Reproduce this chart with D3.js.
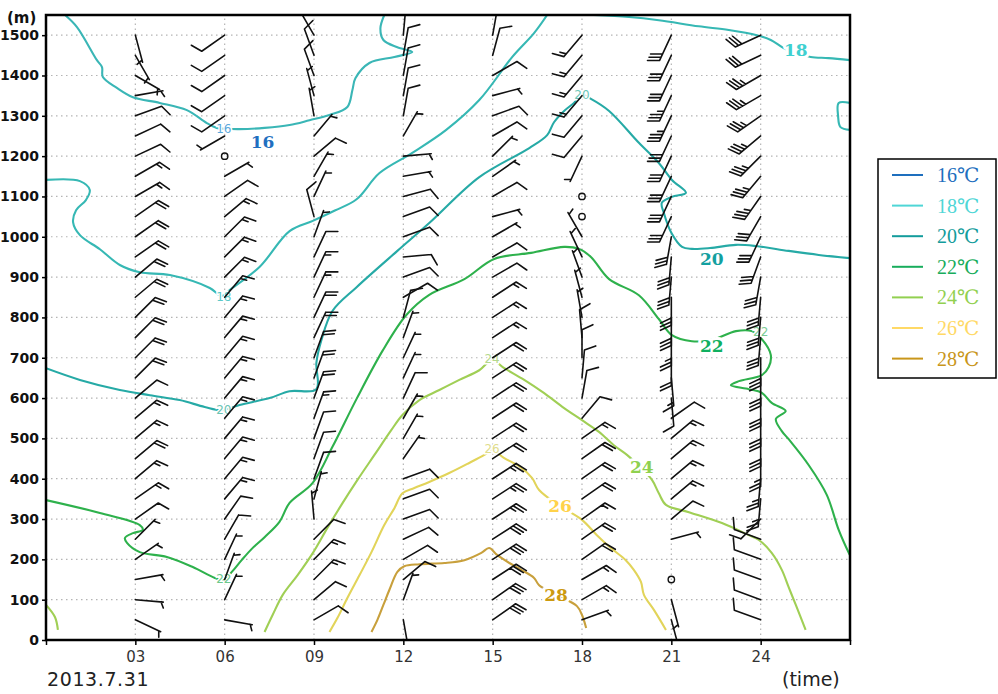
<!DOCTYPE html>
<html><head><meta charset="utf-8">
<script src="https://cdn.jsdelivr.net/npm/d3@7"></script>
<style>body{margin:0;background:#fff;} svg{display:block;}</style>
</head><body><svg id="c" width="998" height="694"></svg>
<script>
// ---------------- DATA ----------------
const xTicks = [0,3,6,9,12,15,18,21,24,27];
const xTickLabels = ["","03","06","09","12","15","18","21","24",""];
const yTicks = d3.range(0,1501,100);
const levels = d3.range(50,1501,50);            // barb heights (m)
const stationHours = [3,6,9,12,15,18,21,24];

// wind direction (deg, from) / speed per station, 50 m .. 1500 m ; speed 0 = calm, null = none
const dir03 = [115,95,80,55,45,55,55,50,50,50,50,50,45,45,45,45,50,50,55,55,55,60,60,65,65,70,80,120,150,165];
const spd03 = [5,5,5,5,5,10,15,15,20,15,15,10,20,20,20,20,20,20,20,20,20,15,15,10,10,10,5,5,5,5];
const dir06 = [100,25,20,25,30,35,40,40,40,40,40,40,40,40,40,40,40,45,45,45,50,55,60,0,240,235,235,235,235,235];
const spd06 = [5,5,5,5,10,10,15,15,15,15,15,15,15,15,15,15,15,15,15,15,15,10,5,0,5,10,10,10,10,10];
const dir09 = [60,50,45,45,45,355,15,20,20,20,20,20,20,20,25,25,25,25,25,20,345,25,30,50,40,350,345,340,340,330];
const spd09 = [10,10,15,15,10,5,5,10,10,10,15,20,20,20,20,20,15,15,10,5,10,5,5,10,5,5,5,10,10,5];
const dir12 = [170,20,50,60,65,70,70,70,35,30,30,25,25,25,20,15,60,70,85,70,70,75,80,85,30,10,10,10,10,5];
const spd12 = [5,5,10,10,10,10,10,10,5,5,5,10,5,5,5,10,10,10,10,10,10,10,5,5,5,10,10,10,10,20];
const dir15 = [55,55,57,57,57,57,57,57,57,57,57,57,57,57,57,57,57,60,60,60,75,60,55,45,60,70,75,60,15,10];
const spd15 = [30,30,30,30,30,25,25,25,20,20,20,20,20,20,15,15,15,10,10,5,5,10,5,5,10,10,5,10,10,10];
const dir18 = [70,60,60,55,55,55,55,55,55,55,40,10,5,0,355,350,345,340,335,330,0,0,null,205,220,220,220,220,220,220];
const spd18 = [5,15,15,20,20,15,20,20,20,15,10,10,10,10,10,5,5,5,5,5,0,0,null,5,10,10,15,15,15,15];
const dir21 = [165,165,0,null,75,50,50,50,50,50,55,175,175,180,180,180,180,185,185,190,205,205,205,205,205,205,205,205,205,205];
const spd21 = [5,5,0,null,5,10,15,15,15,15,10,10,15,20,25,30,30,30,30,30,30,30,30,30,30,35,35,30,30,30];
const dir24 = [290,290,290,290,290,225,185,185,180,180,180,180,180,180,185,185,185,190,200,205,210,215,220,225,230,235,240,240,245,245];
const spd24 = [10,10,10,10,10,10,25,25,25,30,30,30,30,30,30,30,30,30,30,30,30,35,35,35,35,35,35,35,30,30];
const stationDirs = [dir03,dir06,dir09,dir12,dir15,dir18,dir21,dir24];
const stationSpds = [spd03,spd06,spd09,spd12,spd15,spd18,spd21,spd24];

// temperature contours: [hour, height m]
const c16a = [[0.64,1550],[1.04,1520],[1.71,1438],[1.88,1421],[1.91,1396],[2.38,1369],[2.92,1346],[3.82,1332],[4.73,1314],[5.40,1282],[5.73,1270],[6.0,1268],[6.5,1267],[7.34,1270],[8.18,1277],[8.85,1289],[9.52,1302],[10.12,1322],[10.29,1364],[10.39,1393],[10.86,1431],[11.7,1446],[12.3,1458],[11.8,1470],[11.33,1488],[11.23,1517],[11.36,1550]];
const c18a = [[0,1141],[1.14,1138],[1.47,1116],[1.34,1091],[1.01,1066],[0.91,1036],[1.14,1004],[1.81,969],[2.48,930],[3.15,912],[4.16,905],[5.5,873],[5.9,853],[6.17,868],[7.17,925],[8.18,1014],[8.98,1040],[9.7,1065],[10.43,1093],[11.2,1158],[12.3,1208],[13.44,1265],[14.55,1339],[15.66,1446],[16.39,1505],[16.83,1550]];
const c18b = [[18.4,1550],[19.58,1545],[20.58,1537],[21.92,1522],[22.93,1513],[23.87,1500],[24.34,1488],[24.77,1468],[25.2,1455],[25.68,1446],[26.28,1443],[26.99,1438]];
const c18c = [[27,1332],[26.62,1332],[26.6,1300],[26.68,1272],[27,1265]];
const c20 = [[0,674],[1.14,645],[2.48,620],[3.49,607],[4.49,595],[5.33,578],[5.9,570],[6.5,583],[7.51,600],[8.18,617],[9.08,622],[9.08,687],[9.25,744],[9.62,816],[10.43,875],[11.8,965],[12.87,1034],[14.55,1148],[16.23,1220],[16.83,1252],[17.06,1284],[17.4,1312],[17.73,1332],[18.0,1352],[18.3,1342],[18.91,1312],[19.91,1233],[20.58,1183],[21.02,1141],[21.49,1109],[21.02,1099],[20.68,1084],[20.75,1059],[21.0,1010],[21.36,975],[21.69,970],[22.3,972],[23.17,980],[23.84,977],[24.94,965],[25.95,955],[26.99,947]];
const c22 = [[0,347],[1.81,315],[3.15,285],[3.25,273],[2.92,265],[2.65,253],[2.72,241],[3.15,218],[4.06,206],[4.93,181],[5.67,154],[5.97,149],[6.24,169],[6.57,198],[6.91,226],[7.34,255],[7.84,293],[8.18,340],[8.95,389],[9.62,479],[10.43,598],[11.3,717],[12.1,806],[12.87,856],[14.05,895],[15.05,945],[16.29,960],[17.4,975],[17.9,970],[18.3,950],[18.91,895],[19.91,855],[20.58,796],[21.02,756],[21.69,741],[22.4,745],[23.17,766],[23.7,766],[24.04,746],[24.34,707],[24.27,677],[24.04,657],[23.27,642],[23.0,632],[23.6,622],[24.04,613],[24.37,588],[24.84,568],[24.51,548],[24.71,518],[24.94,498],[25.61,434],[26.22,360],[26.62,273],[26.99,211]];
const c24a = [[7.34,20],[7.61,62],[7.95,112],[8.45,161],[8.98,218],[9.45,278],[9.92,335],[10.46,397],[11.03,459],[11.6,521],[11.97,558],[12.54,595],[13.21,620],[13.88,645],[14.55,669],[14.98,694],[15.39,674],[16.06,645],[16.73,612],[17.4,575],[18.0,545],[18.57,516],[19.07,483],[19.51,459],[20.0,425],[20.35,397],[20.58,364],[20.82,335],[21.59,317],[22.7,290],[23.6,260],[23.94,248],[24.37,216],[24.71,174],[24.94,131],[25.18,87],[25.51,25]];
const c24b = [[0,87],[0.3,57],[0.4,25]];
const c26 = [[9.52,20],[9.79,55],[10.12,104],[10.53,161],[10.93,218],[11.36,285],[11.7,327],[11.97,364],[12.37,377],[12.87,392],[13.54,414],[14.21,439],[14.72,459],[14.98,471],[15.39,451],[15.89,431],[16.32,402],[16.56,372],[17.2,335],[18.0,298],[18.5,260],[18.97,228],[19.47,198],[19.74,174],[19.98,144],[20.08,112],[20.42,74],[20.82,25]];
const c28 = [[10.93,20],[11.13,50],[11.33,87],[11.53,124],[11.8,169],[12.03,183],[12.54,188],[13.38,191],[14.05,198],[14.62,216],[14.88,228],[15.15,211],[15.56,191],[15.96,174],[16.39,154],[16.56,136],[17.2,110],[17.83,84],[18.0,62],[18.14,30]];
const contourLines = [c16a,c18a,c18b,c18c,c20,c22,c24a,c24b,c26,c28];
const contourLevelOf = [16,18,18,18,20,22,24,24,26,28];

const tempLevels = [16,18,20,22,24,26,28];
const lineColors = ["#3ab6b6","#36b8b4","#26aaa6","#2eb14c","#a0cf55","#e2d45a","#c8a03c"];
const bigLabelColors = ["#1f6fc0","#3fd0d0","#13a0a0","#10b060","#8fd14f","#ffd24a","#cc9a10"];
const legendColors = ["#1e6fbe","#4fd6d6","#139c9c","#18ad5c","#92d050","#ffd966","#c9961a"];
const legendLabels = ["16℃","18℃","20℃","22℃","24℃","26℃","28℃"];

// inline contour labels [hour, height, text]
const smallLabels = [[5.97,1268,"16"],[5.97,851,"18"],[5.97,570,"20"],[5.97,151,"22"],[18.0,1352,"20"],[14.98,697,"24"],[14.98,474,"26"],[24.0,764,"22"]];
const smallLabelColors = ["#5aa8dc","#5cc8c8","#6cc4b4","#6cc88c","#6cc8b8","#b4d88c","#e0dc8c","#7ccc94"];
// big contour labels [hour, height, text]
const bigLabels = [[7.27,1235,"16"],[25.18,1463,"18"],[22.36,945,"20"],[22.36,729,"22"],[20.01,429,"24"],[17.26,332,"26"],[17.13,112,"28"]];

// ---------------- DRAW ----------------
const svg = d3.select("#c");
const x = d3.scaleLinear().domain([0,27]).range([46,850]);
const y = d3.scaleLinear().domain([0,1550]).range([640,15]);

svg.append("defs").append("clipPath").attr("id","plotclip").append("rect")
  .attr("x",x(0)).attr("y",y(1550)).attr("width",x(27)-x(0)).attr("height",y(0)-y(1550));

// grid
const grid = svg.append("g").attr("stroke","#b4b4b4").attr("stroke-width",1.2).attr("stroke-dasharray","1.5,3.5");
grid.selectAll("line.h").data(yTicks.slice(1)).join("line").attr("class","h")
  .attr("x1",x(0)).attr("x2",x(27)).attr("y1",d=>y(d)).attr("y2",d=>y(d));
grid.selectAll("line.v").data(xTicks.slice(1,-1)).join("line").attr("class","v")
  .attr("x1",d=>x(d)).attr("x2",d=>x(d)).attr("y1",y(0)).attr("y2",y(1550));

// contours
const line = d3.line().x(d=>x(d[0])).y(d=>y(d[1])).curve(d3.curveCatmullRom.alpha(0.5));
svg.append("g").attr("fill","none").attr("stroke-width",2.1).attr("clip-path","url(#plotclip)")
  .selectAll("path").data(contourLines).join("path")
  .attr("d",line)
  .attr("stroke",(d,i)=>lineColors[tempLevels.indexOf(contourLevelOf[i])]);

// small inline labels
svg.append("g").selectAll("text").data(smallLabels).join("text")
  .attr("x",d=>x(d[0])).attr("y",d=>y(d[1])).attr("dy","0.35em")
  .attr("text-anchor","middle").attr("font-family","'DejaVu Sans', sans-serif").attr("font-size",12)
  .attr("fill",(d,i)=>smallLabelColors[i])
  .attr("stroke","#fff").attr("stroke-width",3).attr("paint-order","stroke")
  .text(d=>d[2]);

// wind barbs
const barbG = svg.append("g").attr("clip-path","url(#plotclip)").attr("stroke","#111").attr("stroke-width",1.6).attr("fill","none").attr("stroke-linecap","round");
const L=28, FL=12, HL=6.5, SP=3.6, FA=65*Math.PI/180;
stationHours.forEach((hr,si)=>{
  levels.forEach((lv,li)=>{
    const dir = stationDirs[si][li], spd = stationSpds[si][li];
    if (spd===null || spd===undefined) return;
    const px = x(hr), py = y(lv);
    if (spd===0){ barbG.append("circle").attr("cx",px).attr("cy",py).attr("r",3.2).attr("stroke-width",1.4); return; }
    const r = dir*Math.PI/180, ux=Math.sin(r), uy=-Math.cos(r);
    const fx = ux*Math.cos(FA)-uy*Math.sin(FA), fy = ux*Math.sin(FA)+uy*Math.cos(FA);
    const tx = px+L*ux, ty = py+L*uy;
    let p = `M${px},${py}L${tx},${ty}`;
    const nFull = Math.floor(spd/10), nHalf = Math.round((spd%10)/5);
    let pos = 0;
    for (let k=0;k<nFull;k++){
      const sx=tx-pos*ux, sy=ty-pos*uy;
      p += `M${sx},${sy}L${sx+FL*fx},${sy+FL*fy}`; pos+=SP;
    }
    if (nHalf){
      if (nFull===0) pos = SP*0.6;
      const sx=tx-pos*ux, sy=ty-pos*uy;
      p += `M${sx},${sy}L${sx+HL*fx},${sy+HL*fy}`;
    }
    barbG.append("path").attr("d",p);
  });
});

// big labels
svg.append("g").selectAll("text").data(bigLabels).join("text")
  .attr("x",d=>x(d[0])).attr("y",d=>y(d[1])).attr("dy","0.36em")
  .attr("text-anchor","middle").attr("font-family","'DejaVu Serif', serif").attr("font-weight","bold").attr("font-size",17)
  .attr("fill",(d,i)=>bigLabelColors[i])
  .attr("stroke","#fff").attr("stroke-width",6).attr("paint-order","stroke").attr("stroke-linejoin","round")
  .text(d=>d[2]);

// axes
const xAxis = svg.append("g").attr("transform",`translate(0,${y(0)})`)
  .call(d3.axisBottom(x).tickValues(xTicks).tickFormat((d,i)=>xTickLabels[i]).tickSize(5).tickPadding(6));
xAxis.select(".domain").remove();
xAxis.selectAll("line").attr("stroke","#000").attr("stroke-width",1.5);
xAxis.selectAll("text").attr("font-family","'DejaVu Sans', sans-serif").attr("font-size",15).attr("fill","#333");

const yAxis = svg.append("g").attr("transform",`translate(${x(0)},0)`)
  .call(d3.axisLeft(y).tickValues(yTicks).tickFormat(d3.format("d")).tickSize(4).tickPadding(3));
yAxis.select(".domain").remove();
yAxis.selectAll("line").attr("stroke","#000").attr("stroke-width",1.5);
yAxis.selectAll("text").attr("font-family","'DejaVu Sans', sans-serif").attr("font-size",14).attr("font-weight","bold").attr("fill","#111");

// frame
svg.append("rect").attr("x",x(0)).attr("y",y(1550)).attr("width",x(27)-x(0)).attr("height",y(0)-y(1550))
  .attr("fill","none").attr("stroke","#000").attr("stroke-width",2.5);

// titles
svg.append("text").attr("x",7).attr("y",23).attr("font-family","'DejaVu Sans', sans-serif").attr("font-size",15).attr("font-weight","bold").attr("fill","#111").text("(m)");
svg.append("text").attr("x",47).attr("y",686).attr("font-family","'DejaVu Sans', sans-serif").attr("font-size",19).attr("fill","#222").attr("letter-spacing","0.6").text("2013.7.31");
svg.append("text").attr("x",782).attr("y",686).attr("font-family","'DejaVu Sans', sans-serif").attr("font-size",19).attr("fill","#222").text("(time)");

// legend
const lg = svg.append("g");
lg.append("rect").attr("x",878).attr("y",159).attr("width",118).attr("height",219).attr("fill","#fff").attr("stroke","#000").attr("stroke-width",1.5);
const rows = lg.selectAll("g").data(legendLabels).join("g").attr("transform",(d,i)=>`translate(0,${175+i*30.6})`);
rows.append("line").attr("x1",892).attr("x2",923).attr("y1",0).attr("y2",0).attr("stroke",(d,i)=>legendColors[i]).attr("stroke-width",2);
rows.append("text").attr("x",937).attr("y",0).attr("dy","0.35em")
  .attr("font-family","'Liberation Serif', 'DejaVu Serif', 'Noto Sans CJK SC', serif").attr("font-size",20)
  .attr("fill",(d,i)=>legendColors[i]).text(d=>d);
</script></body></html>
